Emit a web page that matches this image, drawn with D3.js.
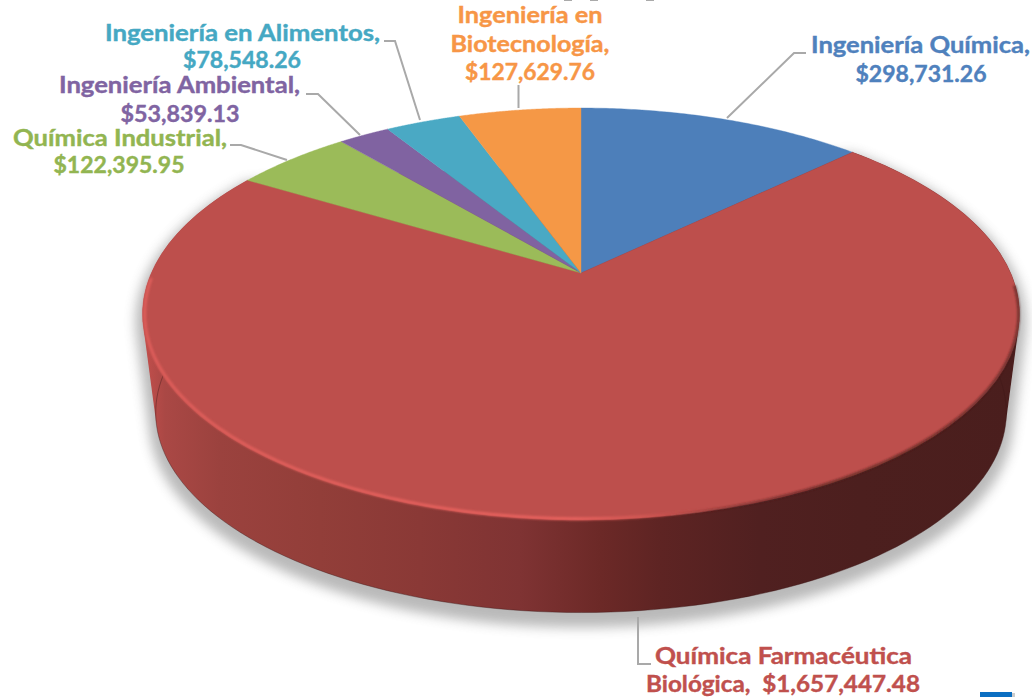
<!DOCTYPE html>
<html><head><meta charset="utf-8">
<script src="https://cdn.jsdelivr.net/npm/d3@7/dist/d3.min.js"></script>
<style>html,body{margin:0;padding:0;background:#fff;overflow:hidden}svg{display:block}
text{font-family:Lato,"Open Sans",sans-serif;font-weight:700;white-space:pre}</style>
</head><body><svg id="c" width="1032" height="697"></svg>
<script>
const categories=["Ingeniería Química","Química Farmacéutica Biológica","Química Industrial","Ingeniería Ambiental","Ingeniería en Alimentos","Ingeniería en Biotecnología"];
const values=[298731.26,1657447.48,122395.95,53839.13,78548.26,127629.76];
const colors=["#4d7fba","#bd4f4c","#9bbb59","#8063a1","#4aa9c4","#f59846"];
const textColors=["#4f81bd","#c0504d","#92b551","#8064a2","#45a8c3","#f79646"];

const svg=d3.select("#c"),defs=svg.append("defs");
const arcs=d3.pie().sort(null).value(d=>d)(values);
const fmt=d3.format("$,.2f");

// perspective projection of the disc
const cx=581,cy=273,A=429.7,B=197.8,P=0.199;
const project=(t,s=1,dy=0)=>{const u=Math.sin(t),v=Math.cos(t),w=1+P*v;
  return [cx+s*A*u/w,cy+dy-s*B*v/w];};
const samples=(a,b,s,dy,n=160)=>d3.range(n+1).map(i=>project(a+(b-a)*i/n,s,dy));
const line=d3.line();
const S=0.97,DY=100;

// filters and gradients
const blur=(id,sd)=>defs.append("filter").attr("id",id).attr("filterUnits","userSpaceOnUse")
  .attr("x",0).attr("y",0).attr("width",1032).attr("height",697)
  .append("feGaussianBlur").attr("stdDeviation",sd);
blur("sh",6);blur("soft",1.1);blur("edge",.9);
const grad=(id,x1,x2,stops)=>{const g=defs.append("linearGradient").attr("id",id).attr("gradientUnits","userSpaceOnUse")
  .attr("x1",x1).attr("x2",x2).attr("y1",0).attr("y2",0);
  stops.forEach(([o,c,op])=>g.append("stop").attr("offset",o).attr("stop-color",c).attr("stop-opacity",op==null?1:op));};
const gx=x=>(x-143)/877;
grad("side",143,1020,[[gx(143),"#c44f4c"],[gx(165),"#aa4845"],[gx(220),"#9b423e"],[gx(320),"#923e39"],[gx(420),"#8a3936"],[gx(520),"#7f3333"],[gx(600),"#6c2927"],[gx(660),"#5e2423"],[gx(760),"#502020"],[gx(860),"#4c1f1e"],[1,"#4a1e1d"]]);
grad("hi",143,720,[[0,"#e8625e",.75],[.75,"#e8625e",1],[.9,"#de5b57",.5],[1,"#c0504d",0]]);
grad("dk",640,820,[[0,"#4c1f1e",0],[.5,"#4c1f1e",.45],[1,"#4c1f1e",.75]]);

const red=arcs[1];
const bottomRim=samples(red.startAngle,red.endAngle,S,DY);
const sidePts=d3.polygonHull(samples(red.startAngle,red.endAngle,1,0).concat(bottomRim));
const sidePath=line(sidePts)+"Z";

// soft shadow
svg.append("path").attr("d",sidePath).attr("fill","#666").attr("stroke","#666").attr("stroke-width",14)
  .attr("stroke-linejoin","round").attr("opacity",.45)
  .attr("transform","translate(0,8)").attr("filter","url(#sh)");
// extruded side
svg.append("path").attr("d",sidePath).attr("fill","url(#side)");
svg.append("path").attr("d",line(bottomRim)).attr("fill","none")
  .attr("stroke","#3c1716").attr("stroke-opacity",.4).attr("stroke-width",1);

// top face
svg.append("g").selectAll("path").data(arcs).join("path")
  .attr("d",d=>line([[cx,cy],...samples(d.startAngle,d.endAngle,1,0,80)])+"Z")
  .attr("fill",(d,i)=>colors[i]).attr("stroke",(d,i)=>colors[i]).attr("stroke-width",.4);

// dark shaded edge on the right, bevel highlight on the left
svg.append("path").attr("d",line(samples(Math.PI*.52,Math.PI*.98,.998,0)))
  .attr("fill","none").attr("stroke","url(#dk)").attr("stroke-width",2.4).attr("filter","url(#edge)");
svg.append("path").attr("d",line(samples(Math.PI*.9,Math.PI*1.49,.995,0)))
  .attr("fill","none").attr("stroke","url(#hi)").attr("stroke-width",3).attr("stroke-linecap","round").attr("filter","url(#soft)");

// leader lines
const leaders=[
 [[727,118],[794,53],[806,53]],
 [[638,617],[638,664],[651,664]],
 [[287,160],[241,145],[230,145]],
 [[360,135],[318,94],[306,94]],
 [[420,120],[395,41],[384,41]],
 [[518.5,108],[518.5,85]]];
svg.append("g").selectAll("path").data(leaders).join("path").attr("d",d=>line(d))
  .attr("fill","none").attr("stroke","#a9a9a9").attr("stroke-width",2);

// labels
const labelLines=[
 [categories[0]+",",fmt(values[0])],
 ["Química Farmacéutica","Biológica,  "+fmt(values[1])],
 [categories[2]+",",fmt(values[2])],
 [categories[3]+",",fmt(values[3])],
 [categories[4]+",",fmt(values[4])],
 ["Ingeniería en","Biotecnología,",fmt(values[5])]];
// centre x, baseline y and width of each line
const labelBoxes=[
 [[920.5,53,219],[921,82,131]],
 [[783.5,664,257],[783,692,274]],
 [[120,146,214],[119,173,131]],
 [[179.5,93,241],[180,122,119]],
 [[242.5,41,275],[242,68,118]],
 [[530,23,145],[530,52,159],[530,80,130]]];
labelLines.forEach((ls,i)=>ls.forEach((t,j)=>{
  const [x,y,w]=labelBoxes[i][j];
  svg.append("text").attr("x",x).attr("y",y).attr("text-anchor","middle")
    .attr("font-size",22.5).attr("textLength",w).attr("lengthAdjust","spacingAndGlyphs")
    .attr("fill",textColors[i]).attr("stroke",textColors[i]).attr("stroke-width",.4).text(t);
}));

// clipped bits at the page edges
svg.append("g").selectAll("rect").data([564,590,646]).join("rect")
  .attr("x",d=>d).attr("y",0).attr("width",8).attr("height",1).attr("fill","#aaa");
svg.append("rect").attr("x",982).attr("y",693).attr("width",33).attr("height",4).attr("fill","#ccc");
svg.append("rect").attr("x",980).attr("y",692).attr("width",32).attr("height",5).attr("fill","#0b6fc2");
</script></body></html>
